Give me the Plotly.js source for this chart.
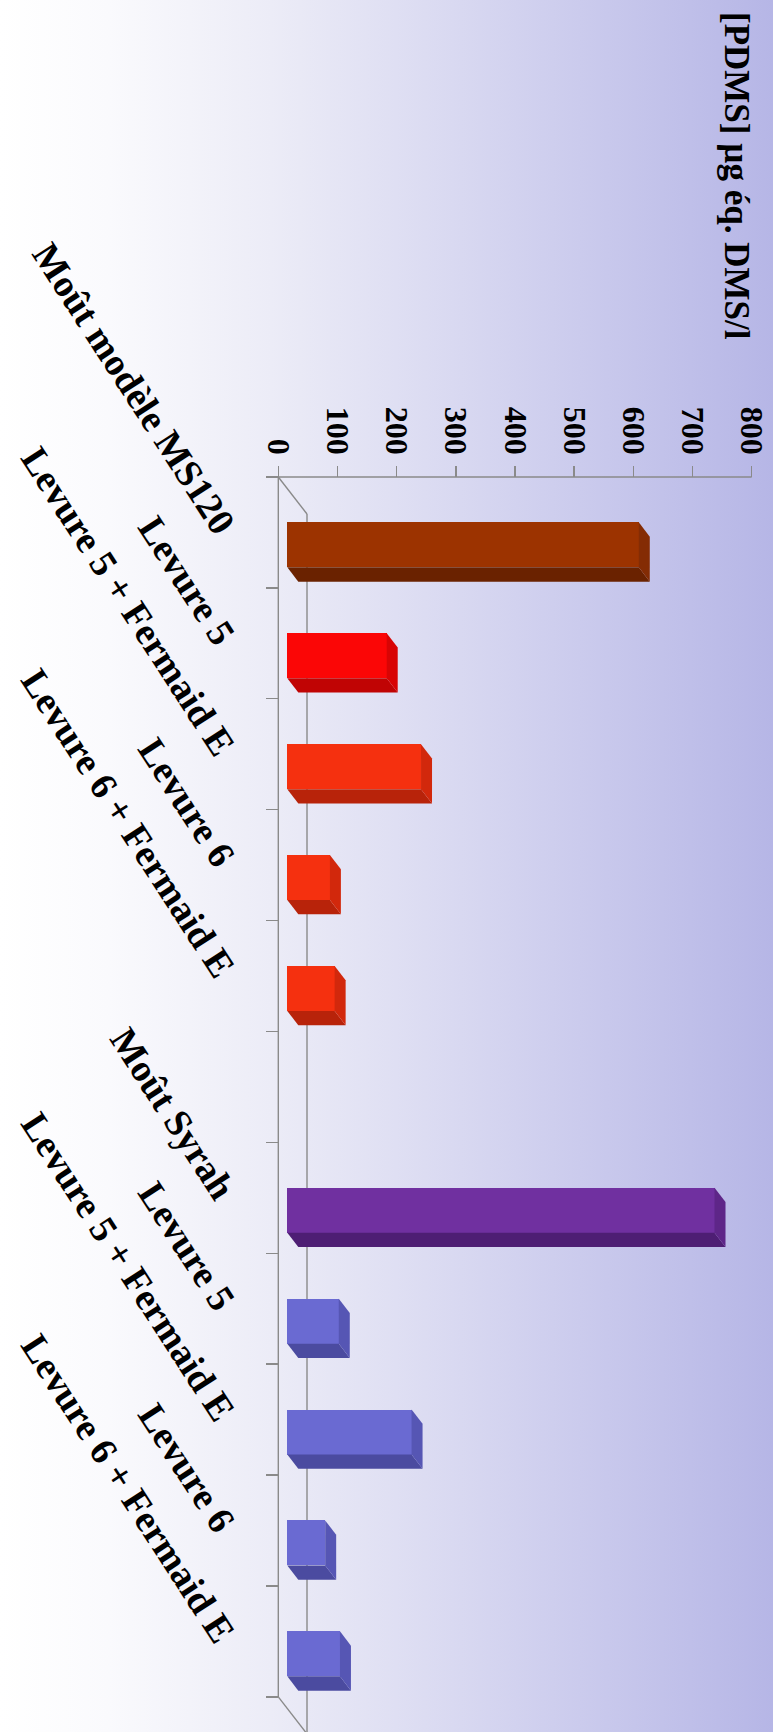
<!DOCTYPE html>
<html>
<head>
<meta charset="utf-8">
<script src="https://cdn.plot.ly/plotly-3.0.1.min.js"></script>
<style>
  html, body { margin: 0; padding: 0; background: #ffffff; }
  #chart {
    width: 773px; height: 1732px;
    background: linear-gradient(to right, #ffffff 0%, #fafafd 14%, #ececf7 35%, #dcdcf2 55%, #cbcbed 75%, #b6b6e6 100%);
  }
</style>
</head>
<body>
<div id="chart"></div>
<script>
// ---------------- data ----------------
const categories = [
  "Moût modèle MS120", "Levure 5", "Levure 5 + Fermaid E", "Levure 6", "Levure 6 + Fermaid E",
  "",
  "Moût Syrah", "Levure 5", "Levure 5 + Fermaid E", "Levure 6", "Levure 6 + Fermaid E"
];
const values = [594, 168, 226, 72, 80, null, 722, 87, 210, 64, 89];
const valueTicks = [0, 100, 200, 300, 400, 500, 600, 700, 800];
const valueTickLabels = ["0", "100", "200", "300", "400", "500", "600", "700", "800"];
const axisTitle = "[PDMS] µg éq. DMS/l";

// ---------------- styles ----------------
const faceColors = ["#9c3300", "#fb0606", "#f5300f", "#f5300f", "#f5300f", null,
                    "#7030a0", "#6a6ad2", "#6a6ad2", "#6a6ad2", "#6a6ad2"];
const sideColors = ["#6a2200", "#c00404", "#b8230a", "#b8230a", "#b8230a", null,
                    "#4e1e74", "#4b4ba0", "#4b4ba0", "#4b4ba0", "#4b4ba0"];
const capColors  = ["#842c04", "#d80404", "#d2280c", "#d2280c", "#d2280c", null,
                    "#5e2688", "#5656b4", "#5656b4", "#5656b4", "#5656b4"];

// ---------------- layout geometry ----------------
const W = 773, H = 1732;
const zeroPx = 278.3;      // pixel x of value 0 on the front axis
const pxPerUnit = 0.5917;  // pixels per value unit
const axisTopPx = 477;     // pixel y of the value axis line
const catPx = 110.9;       // pixels per category
const nCat = categories.length;

const xRange = [-zeroPx / pxPerUnit, (W - zeroPx) / pxPerUnit];
const yTop = -0.5 - axisTopPx / catPx;
const yBottom = -0.5 + (H - axisTopPx) / catPx;

// 3D depth (in data units)
const X0 = 9 / pxPerUnit;       // front face start
const YOFF = 12.4 / catPx;      // front face shift along category
const BARW = 45 / catPx;        // front face thickness
const DX = 11 / pxPerUnit;      // bar depth in x
const DY = 14.3 / catPx;        // bar depth in y
const WX = 28.7 / pxPerUnit;    // wall depth in x
const WY = 37 / catPx;          // wall depth in y

const font = "Liberation Serif, Times New Roman, serif";
const lineCol = "#8a8a8a";

// ---------------- traces ----------------
const idx = [], bx = [], by = [], bc = [];
values.forEach((v, i) => {
  if (v === null) return;
  idx.push(i); bx.push(v); by.push(i + YOFF); bc.push(faceColors[i]);
});

const traces = [];
traces.push({
  type: "bar", orientation: "h",
  x: bx, y: by, base: X0, width: BARW,
  marker: { color: bc, line: { width: 0 } },
  hoverinfo: "skip", showlegend: false
});

idx.forEach(i => {
  const v = values[i];
  const t = i + YOFF - BARW / 2, b = i + YOFF + BARW / 2;
  // bottom (depth) face
  traces.push({
    type: "scatter", mode: "lines", fill: "toself",
    x: [X0, X0 + v, X0 + v + DX, X0 + DX, X0],
    y: [b, b, b + DY, b + DY, b],
    line: { width: 0, color: sideColors[i] }, fillcolor: sideColors[i],
    hoverinfo: "skip", showlegend: false
  });
  // end cap
  traces.push({
    type: "scatter", mode: "lines", fill: "toself",
    x: [X0 + v, X0 + v + DX, X0 + v + DX, X0 + v, X0 + v],
    y: [t, t + DY, b + DY, b, t],
    line: { width: 0, color: capColors[i] }, fillcolor: capColors[i],
    hoverinfo: "skip", showlegend: false
  });
});

// dummy trace so the label axis is drawn
traces.push({ type: "scatter", x: [null], y: [null], yaxis: "y2", hoverinfo: "skip", showlegend: false });

// ---------------- frame lines ----------------
const shapes = [
  [0, -0.5, valueTicks[valueTicks.length - 1], -0.5],
  [0, -0.5, 0, nCat - 0.5],
  [0, -0.5, WX, -0.5 + WY],
  [0, nCat - 0.5, WX, nCat - 0.5 + WY],
  [WX, -0.5 + WY, WX, nCat - 0.5 + WY]
].map(s => ({
  type: "line", xref: "x", yref: "y", layer: "below",
  x0: s[0], y0: s[1], x1: s[2], y1: s[3],
  line: { color: lineCol, width: 1.4 }
}));

const boundaries = [];
for (let k = 0; k <= nCat; k++) boundaries.push(k - 0.5);
const centers = categories.map((c, i) => i);

const layout = {
  width: W, height: H,
  margin: { l: 0, r: 0, t: 0, b: 0 },
  paper_bgcolor: "rgba(0,0,0,0)",
  plot_bgcolor: "rgba(0,0,0,0)",
  showlegend: false,
  bargap: 0,
  xaxis: {
    range: xRange, side: "top", anchor: "free", position: 1 - axisTopPx / H,
    tickmode: "array", tickvals: valueTicks, ticktext: valueTickLabels,
    ticks: "outside", ticklen: 11, tickwidth: 1.4, tickcolor: lineCol,
    tickangle: 90,
    tickfont: { family: font, size: 32, color: "#000", weight: "bold" },
    showgrid: false, zeroline: false, showline: false, fixedrange: true
  },
  yaxis: {
    range: [yBottom, yTop], anchor: "free", position: zeroPx / W,
    tickmode: "array", tickvals: boundaries,
    ticks: "outside", ticklen: 12, tickwidth: 1.4, tickcolor: lineCol,
    showticklabels: false,
    showgrid: false, zeroline: false, showline: false, fixedrange: true
  },
  yaxis2: {
    range: [yBottom, yTop], overlaying: "y", anchor: "free", position: 231 / W,
    tickmode: "array", tickvals: centers, ticktext: categories,
    ticks: "", tickangle: 57,
    tickfont: { family: font, size: 38, color: "#000", weight: "bold" },
    showgrid: false, zeroline: false, showline: false, fixedrange: true
  },
  shapes: shapes,
  annotations: [{
    text: axisTitle, xref: "paper", yref: "paper",
    x: 737 / W, y: 1 - 176 / H, xanchor: "center", yanchor: "middle",
    textangle: 90, showarrow: false,
    font: { family: font, size: 35, color: "#000", weight: "bold" }
  }]
};

Plotly.newPlot("chart", traces, layout, { staticPlot: true, displayModeBar: false });
</script>
</body>
</html>
